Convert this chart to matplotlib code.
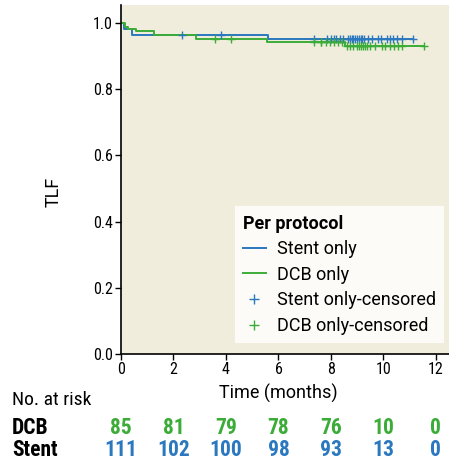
import numpy as np
import matplotlib.pyplot as plt
from matplotlib import font_manager
from matplotlib.lines import Line2D

# step curves (time in months, TLF-free proportion)
stent_t = [0, 0.13, 0.43, 5.62, 11.11]
stent_s = [1.0, 0.982, 0.964, 0.951, 0.951]
dcb_t = [0, 0.15, 0.28, 0.56, 1.24, 2.86, 5.55, 8.53, 11.55]
dcb_s = [1.0, 0.989, 0.982, 0.974, 0.964, 0.952, 0.942, 0.931, 0.931]

# censored times
stent_cens = [2.33, 3.8, 7.36, 7.86, 8.02, 8.12, 8.21, 8.34, 8.47, 8.66, 8.72,
              8.79, 8.85, 8.91, 8.98, 9.08, 9.13, 9.19, 9.26, 9.42, 9.55, 9.80,
              9.89, 10.12, 10.25, 10.35, 10.53, 10.69, 11.11]
dcb_cens = [3.58, 4.18, 7.36, 7.62, 7.64, 7.81, 7.96, 8.11, 8.28, 8.41, 8.6,
            8.72, 8.85, 9.0, 9.08, 9.16, 9.23, 9.31, 9.36, 9.49, 9.68, 9.93,
            10.06, 10.25, 10.4, 10.56, 10.69, 11.55]

risk_times = [0, 2, 4, 6, 8, 10, 12]
dcb_risk = [85, 81, 79, 78, 76, 10, 0]
stent_risk = [111, 102, 100, 98, 93, 13, 0]

BLUE = "#2b78be"
GREEN = "#3cac38"

installed = {f.name for f in font_manager.fontManager.ttflist}


def pick(cands):
    return [c for c in cands if c in installed][:1] + ["DejaVu Sans"]


# condensed face for ticks / risk table, normal one for labels and legend
COND = pick(["Liberation Sans Narrow", "Roboto Condensed", "Open Sans Condensed",
             "Noto Sans Condensed", "Roboto"])
NORM = pick(["Roboto", "Liberation Sans", "Noto Sans"])
plt.rcParams["font.family"] = COND


def surv_at(t_steps, s_steps, t):
    idx = np.searchsorted(t_steps, t, side="right") - 1
    return np.asarray(s_steps)[idx]


fig = plt.figure(figsize=(4.49, 4.65), dpi=100)
ax = fig.add_axes([121 / 449, 1 - 354 / 465, 328 / 449, 349 / 465])
ax.set_facecolor("#f1eddd")

ax.step(stent_t, stent_s, where="post", color=BLUE, lw=1.4)
ax.step(dcb_t, dcb_s, where="post", color=GREEN, lw=1.4)
ax.plot(stent_cens, surv_at(stent_t, stent_s, stent_cens), "+", color=BLUE, ms=6, mew=1)
ax.plot(dcb_cens, surv_at(dcb_t, dcb_s, dcb_cens), "+", color=GREEN, ms=6, mew=1)

ax.set_xlim(0, 12.5)
ax.set_ylim(0, 1.054)
ax.set_xticks(risk_times)
ax.set_yticks(np.arange(0, 1.01, 0.2))
ax.yaxis.set_major_formatter(plt.FormatStrFormatter("%.1f"))
ax.tick_params(labelsize=11.5, length=4, width=1, direction="out", pad=2)
for s in ["top", "right"]:
    ax.spines[s].set_visible(False)
ax.spines["left"].set_linewidth(1.2)
ax.spines["bottom"].set_linewidth(1.2)
ax.set_xlabel("Time (months)", fontsize=13, family=NORM)
ax.set_ylabel("TLF", fontsize=13, family=NORM)
ax.xaxis.set_label_coords(0.48, -0.085)
ax.yaxis.set_label_coords(-0.177, 0.464)

handles = [
    Line2D([], [], color=BLUE, lw=1.4),
    Line2D([], [], color=GREEN, lw=1.4),
    Line2D([], [], color=BLUE, marker="+", ls="none", ms=7, mew=1),
    Line2D([], [], color=GREEN, marker="+", ls="none", ms=7, mew=1),
]
labels = ["Stent only", "DCB only", "Stent only-censored", "DCB only-censored"]
leg = ax.legend(handles, labels, title="Per protocol", loc="lower right",
                bbox_to_anchor=(0.985, 0.0315), borderaxespad=0,
                prop={"family": NORM, "size": 13},
                frameon=True, fancybox=False, handlelength=1.3,
                handletextpad=0.6, labelspacing=0.42, borderpad=0.45)
leg.get_frame().set_facecolor("#fcfbf7")
leg.get_frame().set_edgecolor("none")
leg.get_frame().set_alpha(1)
leg.get_title().set_fontweight("bold")
leg.get_title().set_fontsize(13)
leg.get_title().set_family(NORM)
leg._legend_box.align = "left"

# number at risk table
fig.text(12 / 449, 1 - 400 / 465, "No. at risk", fontsize=14, va="center")
fig.text(12 / 449, 1 - 428 / 465, "DCB", fontsize=15.5, fontweight="bold", va="center")
fig.text(12 / 449, 1 - 450 / 465, "Stent", fontsize=15.5, fontweight="bold", va="center")
for t, d, s in zip(risk_times, dcb_risk, stent_risk):
    xf = ax.transData.transform((t, 0))[0] / fig.bbox.width
    fig.text(xf, 1 - 428 / 465, str(d), color=GREEN, fontsize=15.5,
             fontweight="bold", ha="center", va="center")
    fig.text(xf, 1 - 450 / 465, str(s), color=BLUE, fontsize=15.5,
             fontweight="bold", ha="center", va="center")

fig.savefig("out.png", dpi=100)
